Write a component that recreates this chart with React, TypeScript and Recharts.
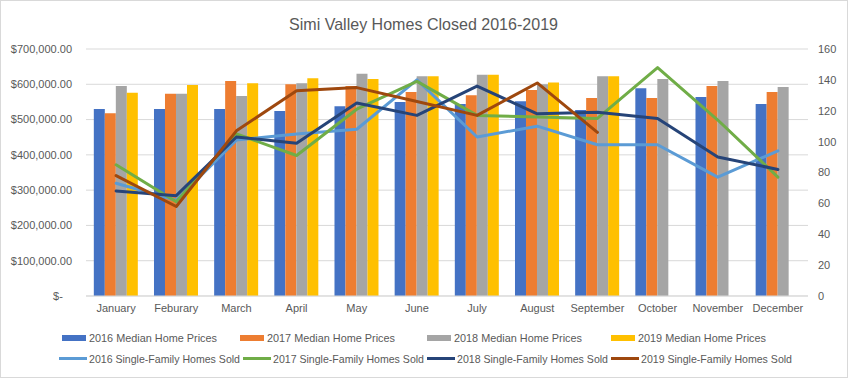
import React from "react";
import {
  ComposedChart,
  Bar,
  Line,
  XAxis,
  YAxis,
  CartesianGrid,
} from "recharts";

const months = [
  "January", "Feburary", "March", "April", "May", "June",
  "July", "August", "September", "October", "November", "December",
];

const prices2016 = [530000, 530000, 530000, 524000, 538000, 550000, 544000, 552000, 527000, 589000, 564000, 544000];
const prices2017 = [518000, 573000, 609000, 600000, 595000, 578000, 569000, 584000, 561000, 561000, 595000, 578000];
const prices2018 = [595000, 573000, 567000, 603000, 630000, 623000, 627000, 600000, 623000, 615000, 609000, 592000];
const prices2019 = [576000, 598000, 603000, 617000, 615000, 623000, 627000, 605000, 623000, null, null, null];

const sold2016 = [73, 62, 101, 105, 108, 140, 103, 110, 98, 98, 77, 94];
const sold2017 = [85, 61, 105, 91, 121, 139, 117, 116, 115, 148, 114, 77];
const sold2018 = [68, 65, 103, 99, 125, 117, 136, 118, 119, 115, 90, 82];
const sold2019 = [78, 58, 107, 133, 135, 126, 117, 138, 106, null, null, null];

const priceTicks = [0, 100000, 200000, 300000, 400000, 500000, 600000, 700000];
const soldTicks = [0, 20, 40, 60, 80, 100, 120, 140, 160];

const chartTitle = "Simi Valley Homes Closed 2016-2019";

const barSeries = [
  { key: "p2016", name: "2016 Median Home Prices", color: "#4472C4" },
  { key: "p2017", name: "2017 Median Home Prices", color: "#ED7D31" },
  { key: "p2018", name: "2018 Median Home Prices", color: "#A5A5A5" },
  { key: "p2019", name: "2019 Median Home Prices", color: "#FFC000" },
];
const lineSeries = [
  { key: "s2016", name: "2016 Single-Family Homes Sold", color: "#5B9BD5" },
  { key: "s2017", name: "2017 Single-Family Homes Sold", color: "#70AD47" },
  { key: "s2018", name: "2018 Single-Family Homes Sold", color: "#264478" },
  { key: "s2019", name: "2019 Single-Family Homes Sold", color: "#9E480E" },
];

const data = months.map((m, i) => ({
  month: m,
  p2016: prices2016[i],
  p2017: prices2017[i],
  p2018: prices2018[i],
  p2019: prices2019[i],
  s2016: sold2016[i],
  s2017: sold2017[i],
  s2018: sold2018[i],
  s2019: sold2019[i],
}));

const FONT = "'Liberation Sans', Arial, sans-serif";
const TXT = "#595959";
const W = 848;
const H = 378;

const fmtPrice = (v: number) =>
  v === 0
    ? "$-\u00a0\u00a0\u00a0"
    : "$" + v.toLocaleString("en-US", { minimumFractionDigits: 2, maximumFractionDigits: 2 });

const row1X = [62, 240, 427, 611];
const row2X = [59, 243, 427, 611];

export default function App() {
  return (
    <div style={{ position: "absolute", left: 0, top: 0, width: W, height: H, background: "#fff", fontFamily: FONT }}>
      <ComposedChart
        width={W}
        height={H}
        data={data}
        margin={{ top: 49, right: 0, bottom: 52, left: 0 }}
        barCategoryGap="13%"
        barGap={0}
      >
        <CartesianGrid yAxisId="left" vertical={false} stroke="#d9d9d9" strokeWidth={1} />
        <XAxis
          dataKey="month"
          height={30}
          tickLine={false}
          axisLine={{ stroke: "#d9d9d9" }}
          tick={{ fill: TXT, fontSize: 11, fontFamily: FONT }}
          interval={0}
        />
        <YAxis
          yAxisId="left"
          orientation="left"
          width={86}
          domain={[0, 700000]}
          ticks={priceTicks}
          tickFormatter={fmtPrice}
          tickLine={false}
          axisLine={false}
          tickMargin={8}
          tick={{ fill: TXT, fontSize: 11, fontFamily: FONT }}
        />
        <YAxis
          yAxisId="right"
          orientation="right"
          width={40}
          domain={[0, 160]}
          ticks={soldTicks}
          tickLine={false}
          axisLine={false}
          tickMargin={4}
          tick={{ fill: TXT, fontSize: 11, fontFamily: FONT, textAnchor: "start" }}
        />
        {barSeries.map((s) => (
          <Bar key={s.key} yAxisId="left" dataKey={s.key} name={s.name} fill={s.color} isAnimationActive={false} />
        ))}
        {lineSeries.map((s) => (
          <Line
            key={s.key}
            yAxisId="right"
            dataKey={s.key}
            name={s.name}
            stroke={s.color}
            strokeWidth={3}
            dot={false}
            activeDot={false}
            type="linear"
            strokeLinejoin="round"
            strokeLinecap="round"
            isAnimationActive={false}
          />
        ))}
      </ComposedChart>
      <svg width={W} height={H} style={{ position: "absolute", left: 0, top: 0, pointerEvents: "none" }}>
        <rect x={0.5} y={0.5} width={W - 1} height={H - 1} fill="none" stroke="#d9d9d9" />
        <text
          x={423.5}
          y={30}
          textAnchor="middle"
          fontSize={17}
          fill={TXT}
          fontFamily={FONT}
          textLength={269}
          lengthAdjust="spacingAndGlyphs"
        >
          {chartTitle}
        </text>
        {barSeries.map((s, i) => (
          <g key={s.key}>
            <rect x={row1X[i]} y={335} width={24} height={6} fill={s.color} />
            <text x={row1X[i] + 27} y={341.5} fontSize={11} fill={TXT} fontFamily={FONT} textLength={128} lengthAdjust="spacingAndGlyphs">
              {s.name}
            </text>
          </g>
        ))}
        {lineSeries.map((s, i) => (
          <g key={s.key}>
            <line x1={row2X[i]} x2={row2X[i] + 28} y1={358.5} y2={358.5} stroke={s.color} strokeWidth={3} />
            <text x={row2X[i] + 30} y={362.5} fontSize={11} fill={TXT} fontFamily={FONT} textLength={151} lengthAdjust="spacingAndGlyphs">
              {s.name}
            </text>
          </g>
        ))}
      </svg>
    </div>
  );
}
